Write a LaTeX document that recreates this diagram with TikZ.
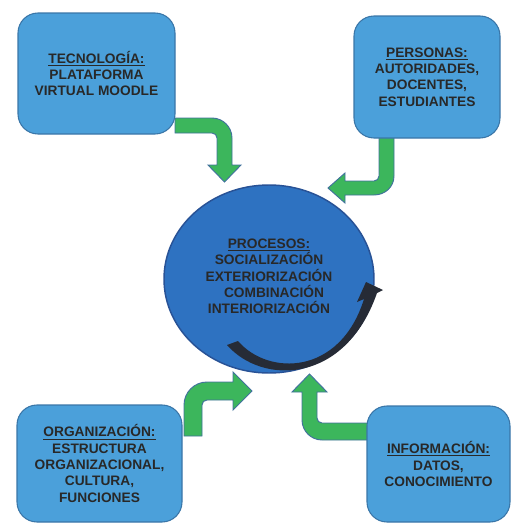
\documentclass[tikz,border=0pt]{standalone}
\usepackage{fontspec}
\setmainfont{Liberation Sans}
\usepackage{tikz}
\usetikzlibrary{shapes.geometric}

\definecolor{boxblue}{RGB}{75,160,218}
\definecolor{boxedge}{RGB}{58,118,168}
\definecolor{procblue}{RGB}{46,114,193}
\definecolor{procedge}{RGB}{40,82,150}
\definecolor{arrowgreen}{RGB}{60,182,92}
\definecolor{arrowedge}{RGB}{65,113,156}
\definecolor{cycledark}{RGB}{38,43,54}
\definecolor{labeltext}{RGB}{40,40,40}

\begin{document}
\begin{tikzpicture}[x=0.75pt,y=0.75pt,yscale=-1,xscale=1,
    areabox/.style={draw=boxedge, fill=boxblue, line width=0.8pt, rounded corners=15pt, inner sep=0pt, align=center, text=labeltext, font=\bfseries\fontsize{10.3}{12.2}\selectfont},
    procnode/.style={ellipse, draw=procedge, fill=procblue, line width=1.1pt, minimum width=157.5pt, minimum height=141pt, inner sep=0pt, align=center, text=labeltext, font=\bfseries\fontsize{10.3}{12.2}\selectfont},
    bentarrow/.style={draw=arrowedge, fill=arrowgreen, line width=0.7pt, line join=miter}]
    \useasboundingbox (0,0) rectangle (518,529);

    %Shape: Bent Arrow [tec -> proc]
    \draw [bentarrow] (175,118) -- (212,118) .. controls (223,118) and (232,127) .. (232,138) -- (232,165) -- (241,165) -- (224.5,182) -- (208,165) -- (217,165) -- (217,138) .. controls (217,135.2) and (214.8,133) .. (212,133) -- (175,133) -- cycle ;
    %Shape: Bent Arrow [pers -> proc]
    \draw [bentarrow] (379,137) -- (394,137) -- (394,176) .. controls (394,187) and (385,195) .. (374,195) -- (345,195) -- (345,203) -- (328,188) -- (345,173) -- (345,181) -- (374,181) .. controls (376.8,181) and (379,178.8) .. (379,176) -- cycle ;
    %Shape: Bent Arrow [org -> proc]
    \draw [bentarrow] (184,436) -- (184,405) .. controls (184,392.3) and (194.3,382) .. (207,382) -- (233,382) -- (233,372) -- (252,391) -- (233,410) -- (233,400) -- (207,400) .. controls (204.2,400) and (202,402.2) .. (202,405) -- (202,436) -- cycle ;
    %Shape: Bent Arrow [info -> proc]
    \draw [bentarrow] (369,423) -- (322,423) .. controls (319.2,423) and (317,420.8) .. (317,418) -- (317,392) -- (327,392) -- (309.5,374) -- (292,392) -- (302,392) -- (302,420) .. controls (302,431) and (311,440) .. (322,440) -- (369,440) -- cycle ;

    %Shape: Rounded Rectangle [id:tec]
    \node [areabox, minimum width=117.75pt, minimum height=90.75pt] (tec) at (96.5,73.5) {\underline{TECNOLOGÍA:}\\PLATAFORMA\\VIRTUAL MOODLE};
    %Shape: Rounded Rectangle [id:pers]
    \node [areabox, minimum width=109.5pt, minimum height=91.5pt] (pers) at (427,77) {\underline{PERSONAS:}\\AUTORIDADES,\\DOCENTES,\\ESTUDIANTES};
    %Shape: Rounded Rectangle [id:org]
    \node [areabox, minimum width=123.75pt, minimum height=87.75pt] (org) at (99.5,463.5) {\underline{ORGANIZACIÓN:}\\ESTRUCTURA\\ORGANIZACIONAL,\\CULTURA,\\FUNCIONES};
    %Shape: Rounded Rectangle [id:info]
    \node [areabox, minimum width=107.25pt, minimum height=87pt] (info) at (438.5,464) {\underline{INFORMACIÓN:}\\DATOS,\\CONOCIMIENTO};

    %Shape: Circle [id:proc]
    \node [procnode] (proc) at (269,279) {};
    % Text Node
    \node [align=center, text=labeltext, font=\bfseries\fontsize{10.3}{12.2}\selectfont, inner sep=0pt] (proctext) at (269,276.5) {\underline{PROCESOS:}\\SOCIALIZACIÓN\\EXTERIORIZACIÓN\\\hspace*{7.5pt}COMBINACIÓN\\INTERIORIZACIÓN};

    %Shape: Curved Arrow [id:cycle]
    \fill [cycledark] (227,345) .. controls (262,385) and (345,385) .. (377,293) -- (383,290) -- (366,282) -- (357,302) -- (364,299) .. controls (340,376) and (268,376) .. (238,341) -- cycle ;

\end{tikzpicture}
\end{document}
